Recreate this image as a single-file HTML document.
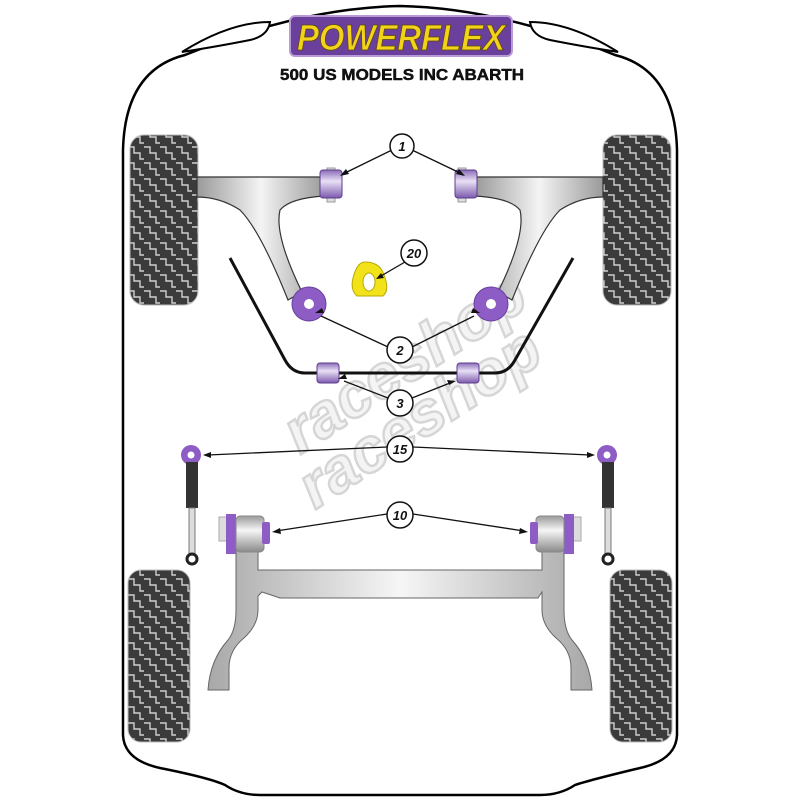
<!DOCTYPE html>
<html><head><meta charset="utf-8"><style>
html,body{margin:0;padding:0;background:#fff;width:800px;height:800px;overflow:hidden}
svg{display:block}
</style></head><body>
<svg width="800" height="800" viewBox="0 0 800 800" xmlns="http://www.w3.org/2000/svg">
<defs>
<pattern id="tread" width="16" height="16" patternUnits="userSpaceOnUse">
<rect width="16" height="16" fill="#3b3b3b"/>
<path d="M0 3h6v6h6v6h4" fill="none" stroke="#cfcfcf" stroke-width="1.4"/>
</pattern>
<linearGradient id="armg" x1="0" x2="1" y1="0" y2="0">
<stop offset="0" stop-color="#9a9a9a"/><stop offset="0.5" stop-color="#f4f4f4"/><stop offset="1" stop-color="#9a9a9a"/>
</linearGradient>
<linearGradient id="barg" x1="0" x2="1">
<stop offset="0" stop-color="#a8a8a8"/><stop offset="0.5" stop-color="#f6f6f6"/><stop offset="1" stop-color="#a8a8a8"/>
</linearGradient>
<linearGradient id="bush" x1="0" x2="0" y1="0" y2="1">
<stop offset="0" stop-color="#8a6bb8"/><stop offset="0.4" stop-color="#e9e0f5"/><stop offset="1" stop-color="#7c5aae"/>
</linearGradient>
<linearGradient id="metal" x1="0" x2="0" y1="0" y2="1">
<stop offset="0" stop-color="#9a9a9a"/><stop offset="0.4" stop-color="#f6f6f6"/><stop offset="1" stop-color="#8a8a8a"/>
</linearGradient>
</defs>

<path d="M123 735 L123 150 Q125 70 185 55 Q300 8 400 6 Q500 8 615 55 Q675 70 677 150 L677 735 Q676 760 640 768 Q590 780 575 785 Q560 795 540 795 L260 795 Q240 795 225 785 Q210 778 160 768 Q124 760 123 735 Z" fill="#fff" stroke="#000" stroke-width="2.5"/>
<path d="M182 52 Q230 22 270 22 Q268 36 250 40 Q220 46 182 52 Z" fill="#fff" stroke="#000" stroke-width="2"/>
<path d="M618 52 Q570 22 530 22 Q532 36 550 40 Q580 46 618 52 Z" fill="#fff" stroke="#000" stroke-width="2"/>

<rect x="290" y="16" width="222" height="40" rx="5" fill="#6b3f9c" stroke="#b79ad6" stroke-width="2"/>
<text x="401" y="50" text-anchor="middle" font-family="Liberation Sans, sans-serif" font-weight="bold" font-style="italic" font-size="36" fill="#f2d21a" stroke="#5a4a08" stroke-width="0.8" textLength="208" lengthAdjust="spacingAndGlyphs">POWERFLEX</text>
<text x="402" y="80" text-anchor="middle" font-family="Liberation Sans, sans-serif" font-weight="bold" font-size="16" fill="#111" stroke="#111" stroke-width="0.5" textLength="244" lengthAdjust="spacingAndGlyphs">500 US MODELS INC ABARTH</text>

<g font-family="Liberation Sans, sans-serif" font-weight="bold" font-style="italic" font-size="62" fill="#f4f4f4" stroke="#d6d6d6" stroke-width="2.5">
<text transform="translate(300,455) rotate(-33)">raceshop</text>
<text transform="translate(315,510) rotate(-33)">raceshop</text>
</g>

<rect x="130" y="135" width="68" height="170" rx="14" fill="url(#tread)" stroke="#bbb"/>
<rect x="603" y="135" width="68" height="170" rx="14" fill="url(#tread)" stroke="#bbb"/>
<rect x="128" y="570" width="62" height="172" rx="13" fill="url(#tread)" stroke="#bbb"/>
<rect x="610" y="570" width="62" height="172" rx="13" fill="url(#tread)" stroke="#bbb"/>

<path d="M197 177 L325 177 L325 196 Q290 198 280 210 Q274 235 302 292 L288 300 Q260 230 240 210 Q220 197 197 197 Z" fill="url(#armg)" stroke="#333" stroke-width="1.2"/>
<path d="M603 177 L475 177 L475 196 Q510 198 520 210 Q526 235 498 292 L512 300 Q540 230 560 210 Q580 197 603 197 Z" fill="url(#armg)" stroke="#333" stroke-width="1.2"/>

<rect x="327" y="168" width="8" height="34" fill="#ddd" stroke="#999"/>
<rect x="320" y="170" width="22" height="28" rx="3" fill="url(#bush)" stroke="#5e3d8e"/>
<rect x="458" y="168" width="8" height="34" fill="#ddd" stroke="#999"/>
<rect x="455" y="170" width="22" height="28" rx="3" fill="url(#bush)" stroke="#5e3d8e"/>

<path d="M230 258 L285 360 Q292 373 305 373 L495 373 Q508 373 515 360 L573 258" fill="none" stroke="#111" stroke-width="3"/>
<rect x="317" y="363" width="22" height="20" rx="3" fill="url(#bush)" stroke="#5e3d8e"/>
<rect x="457" y="363" width="22" height="20" rx="3" fill="url(#bush)" stroke="#5e3d8e"/>

<circle cx="309" cy="304" r="17" fill="#8d5cc4" stroke="#6a3fa0"/><circle cx="309" cy="304" r="5" fill="#fff"/>
<circle cx="491" cy="304" r="17" fill="#8d5cc4" stroke="#6a3fa0"/><circle cx="491" cy="304" r="5" fill="#fff"/>

<path d="M365 262 Q380 262 384 275 Q390 290 383 296 L357 296 Q350 290 353 278 Q357 262 365 262 Z" fill="#f1e21a" stroke="#b8a800"/>
<ellipse cx="369" cy="282" rx="6" ry="9" fill="#fff" stroke="#b8a800"/>

<circle cx="191" cy="455" r="10" fill="#8d5cc4"/><circle cx="191" cy="455" r="3.5" fill="#fff"/>
<rect x="186" y="462" width="12" height="46" fill="#333"/>
<rect x="189" y="508" width="6" height="48" fill="#ddd" stroke="#777"/>
<circle cx="192" cy="559" r="5" fill="#fff" stroke="#222" stroke-width="3"/>
<circle cx="607" cy="455" r="10" fill="#8d5cc4"/><circle cx="607" cy="455" r="3.5" fill="#fff"/>
<rect x="602" y="462" width="12" height="46" fill="#333"/>
<rect x="605" y="508" width="6" height="48" fill="#ddd" stroke="#777"/>
<circle cx="608" cy="559" r="5" fill="#fff" stroke="#222" stroke-width="3"/>

<path d="M236 548 L258 548 L258 570 L542 570 L542 548 L564 548 L564 610 Q564 630 572 640 Q590 660 592 690 L571 690 L571 668 Q571 650 556 638 Q542 625 542 610 L542 592 L538 598 L280 598 L262 592 L258 596 L258 610 Q258 625 244 638 Q229 650 229 668 L229 690 L208 690 Q210 660 228 640 Q236 630 236 610 Z" fill="url(#barg)" stroke="#666" stroke-width="1"/>
<rect x="219" y="517" width="10" height="24" fill="#ddd" stroke="#aaa"/>
<rect x="226" y="514" width="10" height="40" fill="#8d5cc4"/>
<rect x="236" y="516" width="28" height="36" rx="4" fill="url(#metal)" stroke="#888"/>
<rect x="262" y="522" width="8" height="22" rx="2" fill="#8d5cc4"/>
<rect x="571" y="517" width="10" height="24" fill="#ddd" stroke="#aaa"/>
<rect x="564" y="514" width="10" height="40" fill="#8d5cc4"/>
<rect x="536" y="516" width="28" height="36" rx="4" fill="url(#metal)" stroke="#888"/>
<rect x="530" y="522" width="8" height="22" rx="2" fill="#8d5cc4"/>

<g stroke="#111" stroke-width="1.3" fill="none">
<line x1="392" y1="150" x2="347" y2="172"/><line x1="412" y1="150" x2="458" y2="172"/>
<line x1="405" y1="262" x2="381" y2="276"/>
<line x1="388" y1="347" x2="321" y2="316"/><line x1="412" y1="347" x2="474" y2="316"/>
<line x1="388" y1="398" x2="344" y2="381"/><line x1="412" y1="398" x2="450" y2="383"/>
<line x1="387" y1="447" x2="208" y2="455"/><line x1="413" y1="447" x2="590" y2="455"/>
<line x1="387" y1="514" x2="276" y2="531"/><line x1="413" y1="514" x2="524" y2="531"/>
</g>
<g fill="#111">
<path d="M340 176 l9 -2 l-3 -5z"/><path d="M465 176 l-9 -2 l3 -5z"/>
<path d="M376 279 l8 -1 l-3 -5z"/>
<path d="M315 313 l9 0 l-2 -5z"/><path d="M480 313 l-9 0 l2 -5z"/>
<path d="M338 379 l9 0 l-2 -5z"/><path d="M456 381 l-9 -1 l2 5z"/>
<path d="M203 455 l8 -3 l0 6z"/><path d="M595 455 l-8 -3 l0 6z"/>
<path d="M272 532 l8 -4 l1 6z"/><path d="M528 532 l-8 -4 l-1 6z"/>
</g>
<g fill="#fff" stroke="#111" stroke-width="1.5">
<circle cx="402" cy="146" r="12"/><circle cx="414" cy="253" r="13"/><circle cx="400" cy="350" r="13"/>
<circle cx="400" cy="403" r="13"/><circle cx="400" cy="449" r="13"/><circle cx="400" cy="515" r="13"/>
</g>
<g font-family="Liberation Sans, sans-serif" font-weight="bold" font-style="italic" font-size="13" fill="#111" text-anchor="middle">
<text x="402" y="151">1</text><text x="414" y="258">20</text><text x="400" y="355">2</text>
<text x="400" y="408">3</text><text x="400" y="454">15</text><text x="400" y="520">10</text>
</g>
</svg>
</body></html>
